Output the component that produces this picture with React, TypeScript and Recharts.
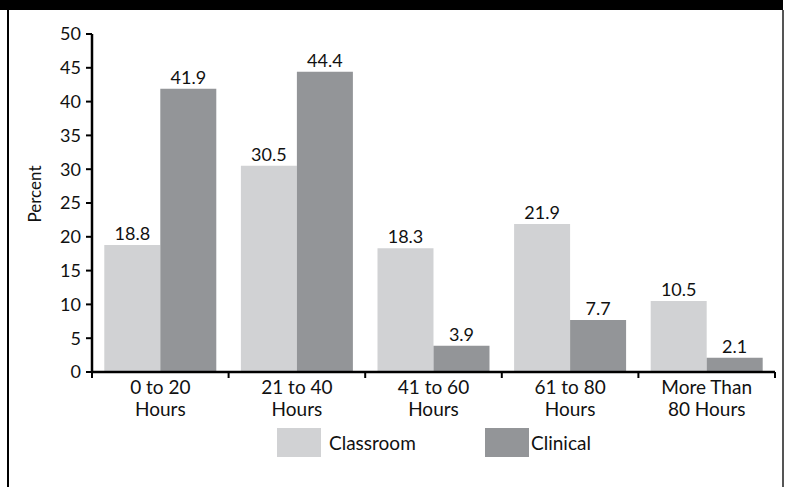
import React from 'react';
import { Bar, BarChart, LabelList, XAxis, YAxis } from 'recharts';

const categories = ['0 to 20\nHours', '21 to 40\nHours', '41 to 60\nHours', '61 to 80\nHours', 'More Than\n80 Hours'];
const classroom = [18.8, 30.5, 18.3, 21.9, 10.5];
const clinical = [41.9, 44.4, 3.9, 7.7, 2.1];
const yTicks = [0, 5, 10, 15, 20, 25, 30, 35, 40, 45, 50];

const series = [
  { key: 'classroom', name: 'Classroom', color: '#d1d2d4' },
  { key: 'clinical', name: 'Clinical', color: '#939598' },
];

const data = categories.map((label, i) => ({
  label,
  classroom: classroom[i],
  clinical: clinical[i],
}));

const FONT = 'Lato, "Open Sans", sans-serif';

// category labels on two lines, plus tick marks at the category boundaries
const CategoryTick = (props: any) => {
  const { x, y, payload, index } = props;
  const half = payload?.offset || 136.6 / 2;
  const lines = String(payload.value).split('\n');
  const axisY = y - 8;
  return (
    <g>
      <line x1={x - half} x2={x - half} y1={axisY} y2={axisY + 6} stroke="#000" strokeWidth={2} />
      {index === categories.length - 1 && (
        <line x1={x + half} x2={x + half} y1={axisY} y2={axisY + 6} stroke="#000" strokeWidth={2} />
      )}
      <text x={x} y={axisY + 22} textAnchor="middle" fontSize={19} fill="#111" fontFamily={FONT}>
        {lines.map((l, i) => (
          <tspan key={i} x={x} dy={i === 0 ? 0 : 22}>
            {l}
          </tspan>
        ))}
      </text>
    </g>
  );
};

export default function App() {
  return (
    <div style={{ position: 'fixed', left: 0, top: 0, width: 786, height: 487, background: '#fff', overflow: 'hidden', fontFamily: FONT }}>
      <div style={{ position: 'absolute', left: 0, top: 0 }}>
        <BarChart
          width={786}
          height={487}
          data={data}
          margin={{ top: 34, right: 11, bottom: 85, left: 32 }}
          barCategoryGap="9%"
          barGap={0}
        >
          <XAxis
            dataKey="label"
            interval={0}
            axisLine={{ stroke: '#000', strokeWidth: 2.5 }}
            tickLine={false}
            tick={<CategoryTick />}
            height={30}
          />
          <YAxis
            width={60}
            domain={[0, 50]}
            ticks={yTicks}
            interval={0}
            axisLine={{ stroke: '#000', strokeWidth: 2.5 }}
            tickLine={{ stroke: '#000', strokeWidth: 2 }}
            tickSize={6}
            tickMargin={5}
            tick={{ fontSize: 18, fill: '#111', fontFamily: FONT }}
          />
          {series.map((s) => (
            <Bar key={s.key} dataKey={s.key} name={s.name} fill={s.color} isAnimationActive={false}>
              <LabelList dataKey={s.key} position="top" offset={5} fontSize={18} fill="#111" fontFamily={FONT} />
            </Bar>
          ))}
        </BarChart>
      </div>

      {/* frame: black header strip and side rules */}
      <div style={{ position: 'absolute', zIndex: 5, left: 0, top: 0, width: 783, height: 10, background: '#000' }} />
      <div style={{ position: 'absolute', zIndex: 5, left: 7, top: 10, width: 2, height: 477, background: '#000' }} />
      <div style={{ position: 'absolute', zIndex: 5, left: 782, top: 10, width: 2, height: 477, background: '#555' }} />

      <div
        style={{
          position: 'absolute',
          left: 34,
          top: 194,
          transform: 'translate(-50%, -50%) rotate(-90deg)',
          fontSize: 17,
          color: '#111',
          whiteSpace: 'nowrap',
        }}
      >
        Percent
      </div>

      {series.map((s, i) => (
        <div
          key={s.key}
          style={{ position: 'absolute', left: i === 0 ? 277 : 485, top: 428, display: 'flex', alignItems: 'center' }}
        >
          <div style={{ width: 44, height: 29, background: s.color }} />
          <span style={{ marginLeft: i === 0 ? 8 : 2, fontSize: 19, color: '#111' }}>{s.name}</span>
        </div>
      ))}
    </div>
  );
}
